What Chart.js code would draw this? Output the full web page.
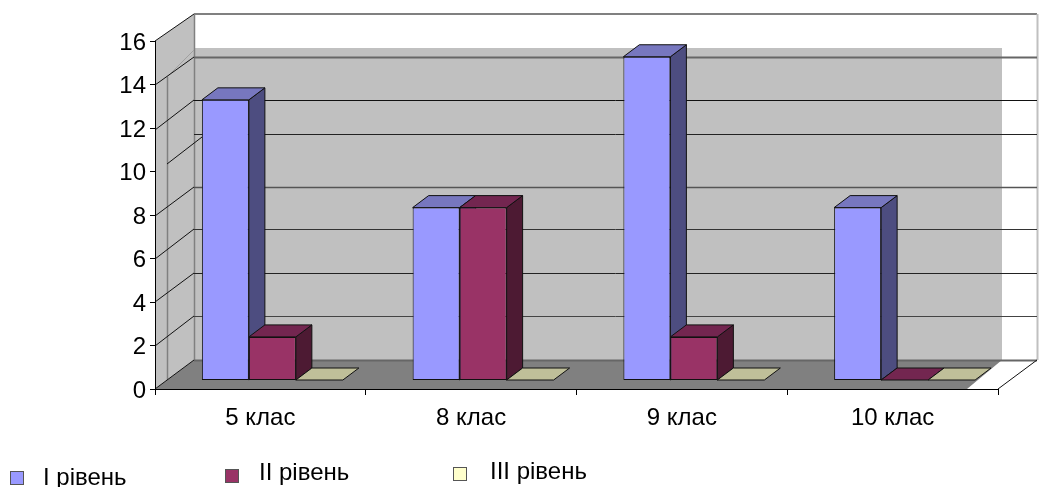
<!DOCTYPE html>
<html><head><meta charset="utf-8">
<style>
html,body{margin:0;padding:0;background:#fff;overflow:hidden}
#wrap{position:relative;width:1039px;height:487px}
canvas{position:absolute;left:0;top:0}
.lg{position:absolute;font:24px "Liberation Sans",Arial,sans-serif;color:#000;white-space:nowrap;line-height:24px}
.mk{position:absolute;width:12px;height:12px;border:1.5px solid #555;box-sizing:content-box}
</style>
<script src="https://cdn.jsdelivr.net/npm/chart.js@4"></script>
</head><body>
<div id="wrap"><canvas id="c" width="1039" height="487"></canvas>
<div class="mk" style="left:10px;top:471px;background:#9999FF"></div><div class="lg" style="left:43px;top:465px" id="l0"></div>
<div class="mk" style="left:225px;top:469px;background:#993366"></div><div class="lg" style="left:259px;top:460px" id="l1"></div>
<div class="mk" style="left:453px;top:467px;background:#FFFFCC"></div><div class="lg" style="left:490px;top:459px" id="l2"></div>
</div>
<script>
const categories = ["5 клас", "8 клас", "9 клас", "10 клас"];
const level1 = [13, 8, 15, 8];
const level2 = [2, 8, 2, 0];
const level3 = [0, 0, 0, 0];
const seriesNames = ["I рівень", "II рівень", "III рівень"];
const yTicks = [0, 2, 4, 6, 8, 10, 12, 14, 16];

seriesNames.forEach((n, i) => document.getElementById("l" + i).textContent = n);

const BAR_SHIFT = 12, DX = 16, DY = 12;
const shades = [
  {top: "#7777BF", side: "#4D4D80"},
  {top: "#732650", side: "#4D1A33"},
  {top: "#BFBF99", side: "#808066"}
];

function poly(ctx, pts, fill, stroke, w) {
  ctx.beginPath();
  pts.forEach((p, i) => i ? ctx.lineTo(p[0], p[1]) : ctx.moveTo(p[0], p[1]));
  ctx.closePath();
  if (fill) { ctx.fillStyle = fill; ctx.fill(); }
  if (stroke) { ctx.strokeStyle = stroke; ctx.lineWidth = w || 1; ctx.stroke(); }
}
function line(ctx, x1, y1, x2, y2, c, w) {
  ctx.beginPath(); ctx.moveTo(x1, y1); ctx.lineTo(x2, y2);
  ctx.strokeStyle = c; ctx.lineWidth = w || 1; ctx.stroke();
}

const room = {
  id: "room",
  beforeDraw(chart) {
    const ctx = chart.ctx;
    ctx.save();
    poly(ctx, [[155,41],[194,14],[194,360],[155,389]], "#C0C0C0");
    ctx.fillStyle = "#C0C0C0"; ctx.fillRect(194, 48, 808, 312);
    poly(ctx, [[155,389],[194,360],[1002,360],[967,389]], "#808080");
    line(ctx, 194, 14, 1037, 14, "#808080", 2);
    line(ctx, 1037.5, 14, 1037.5, 360, "#C0C0C0", 2);
    line(ctx, 194.5, 14, 194.5, 360, "#808080", 1.5);
    line(ctx, 167.5, 77, 167.5, 380, "#808080", 1.5);
    line(ctx, 167, 77, 194, 50, "#A0A0A0", 1);
    [[57,"#666",2],[100,"#111",1],[134,"#222",1],[187,"#555",1.5],[229,"#333",1],[273,"#222",1],[316,"#444",1],[360,"#666",2]]
      .forEach(l => line(ctx, 194, l[0] + 0.5, 1037, l[0] + 0.5, l[1], l[2]));
    [[155,41,194,14],[155,85,194,57],[155,130,194,100],[167,164,202,137],[155,216,194,187],
     [155,259,194,229],[155,302,194,273],[155,346,194,316],[155,389,194,360],[998,389,1037,360]]
      .forEach(d => line(ctx, d[0], d[1], d[2], d[3], "#111", 1));
    ctx.restore();
  },
  beforeDatasetsDraw(chart) {
    const ctx = chart.ctx;
    ctx.save();
    ctx.translate(BAR_SHIFT, 0);
    chart.data.datasets.forEach((ds, i) => {
      chart.getDatasetMeta(i).data.forEach(el => {
        const l = el.x - el.width / 2, r = el.x + el.width / 2, t = el.y, b = el.base;
        if (b - t > 0.5) poly(ctx, [[r,t],[r+DX,t-DY],[r+DX,b-DY],[r,b]], shades[i].side, "#111", 1);
        poly(ctx, [[l,t],[r,t],[r+DX,t-DY],[l+DX,t-DY]], shades[i].top, "#111", 1);
      });
    });
  },
  afterDatasetsDraw(chart) { chart.ctx.restore(); }
};

new Chart(document.getElementById("c"), {
  type: "bar",
  data: {
    labels: categories,
    datasets: [
      {label: seriesNames[0], data: level1, backgroundColor: "#9999FF"},
      {label: seriesNames[1], data: level2, backgroundColor: "#993366"},
      {label: seriesNames[2], data: level3, backgroundColor: "#FFFFCC"}
    ].map(d => Object.assign(d, {yAxisID: "y1", borderColor: "#111", borderWidth: 1, borderSkipped: false,
      categoryPercentage: 0.669, barPercentage: 1}))
  },
  plugins: [room],
  options: {
    responsive: false,
    animation: false,
    layout: {padding: {top: 41, right: 41, left: 0, bottom: 0}},
    plugins: {legend: {display: false}, title: {display: false}, tooltip: {enabled: false}},
    scales: {
      x: {
        grid: {display: true, drawOnChartArea: false, offset: true, tickLength: 6, color: "#000"},
        border: {display: true, color: "#000", width: 1},
        ticks: {font: {family: "Liberation Sans", size: 24}, color: "#000", padding: 9, maxRotation: 0},
        afterFit(s) { s.height = 98; }
      },
      y: {
        min: 0, max: 16,
        afterBuildTicks(s) { s.ticks = yTicks.map(v => ({value: v})); },
        grid: {display: true, drawOnChartArea: false, tickLength: 5, color: "#000"},
        border: {display: true, color: "#000", width: 1},
        ticks: {font: {family: "Liberation Sans", size: 24}, color: "#000", padding: 4, labelOffset: 2},
        afterFit(s) { s.width = 155; }
      },
      y1: {display: false, min: -0.4176, max: 15.731}
    }
  }
});
</script>
</body></html>
